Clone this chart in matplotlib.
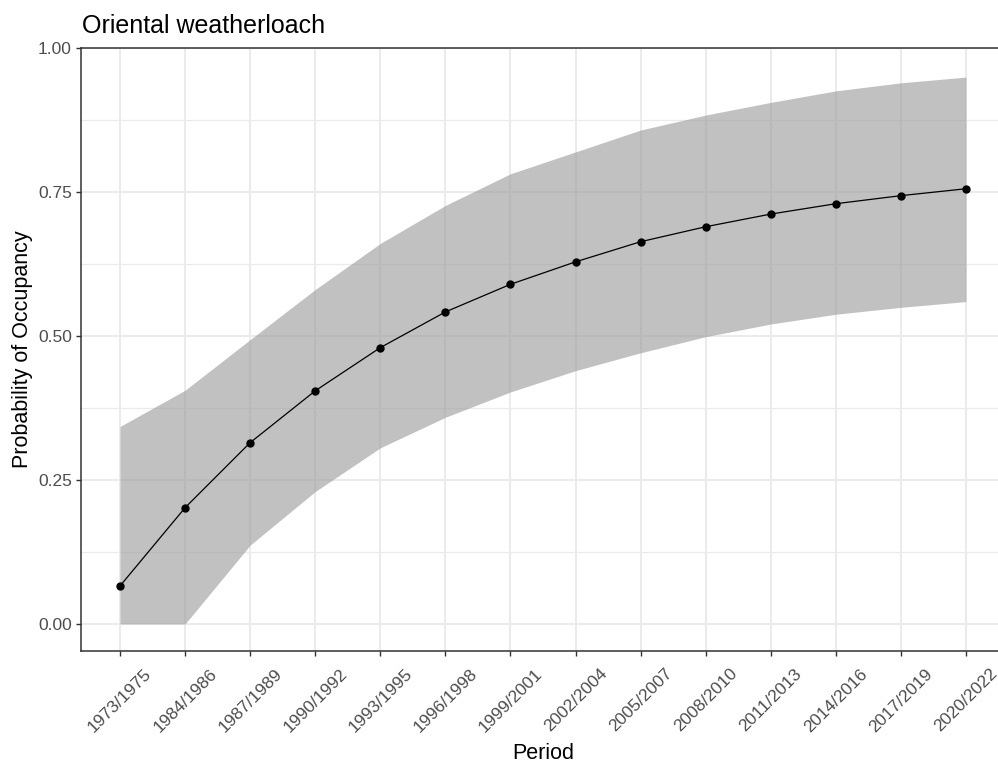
import numpy as np
import matplotlib
matplotlib.use("Agg")
import matplotlib.pyplot as plt

# periods (x categories)
periods = ["1973/1975", "1984/1986", "1987/1989", "1990/1992", "1993/1995",
           "1996/1998", "1999/2001", "2002/2004", "2005/2007", "2008/2010",
           "2011/2013", "2014/2016", "2017/2019", "2020/2022"]

# estimated occupancy and confidence band
occupancy = [0.066, 0.202, 0.315, 0.405, 0.480, 0.542, 0.590,
             0.629, 0.664, 0.690, 0.712, 0.730, 0.744, 0.756]
upper = [0.343, 0.406, 0.494, 0.581, 0.661, 0.727, 0.782,
         0.820, 0.858, 0.884, 0.906, 0.926, 0.940, 0.950]
lower = [0.0, 0.0, 0.137, 0.230, 0.306, 0.359, 0.403,
         0.440, 0.471, 0.499, 0.521, 0.538, 0.550, 0.560]

plt.rcParams['font.family'] = ['Liberation Sans', 'DejaVu Sans']

fig = plt.figure(figsize=(9.98, 7.67), dpi=100)
ax = fig.add_axes([81 / 998, 1 - 651 / 767, (1005 - 81) / 998, (651 - 48) / 767])

x = np.arange(len(periods))

# grid (theme_bw style)
ax.set_axisbelow(True)
ax.set_yticks([0.0, 0.25, 0.5, 0.75, 1.0])
ax.set_yticks([0.125, 0.375, 0.625, 0.875], minor=True)
ax.grid(True, which='major', color='#EBEBEB', linewidth=1.4)
ax.grid(True, which='minor', axis='y', color='#EBEBEB', linewidth=0.9)
ax.tick_params(axis='y', which='minor', length=0)

ax.fill_between(x, lower, upper, color='#999999', alpha=0.6, linewidth=0, zorder=2)
ax.plot(x, occupancy, color='black', linewidth=0.9, zorder=3)
ax.plot(x, occupancy, 'o', color='black', markersize=5, zorder=4)

ax.set_xlim(-0.6, 13.6)
ax.set_ylim(-0.047, 1.0005)
ax.set_xticks(x)
ax.set_xticklabels(periods, rotation=45, ha='center', va='center',
                   rotation_mode='anchor')
ax.set_yticklabels(["0.00", "0.25", "0.50", "0.75", "1.00"])

ax.tick_params(axis='both', which='major', length=3.5, width=1.0, color='#333333',
               labelcolor='#4D4D4D', labelsize=12.5)
ax.tick_params(axis='x', pad=32)
ax.tick_params(axis='y', pad=3)

for s in ax.spines.values():
    s.set_color('#333333')
    s.set_linewidth(1.1)

ax.set_xlabel("Period", fontsize=15.5, color='black')
ax.xaxis.set_label_coords(0.5, -0.152)
ax.set_ylabel("Probability of Occupancy", fontsize=15.5, color='black')
ax.yaxis.set_label_coords(-0.052, 0.5)

fig.text(82 / 998, 1 - 33 / 767, "Oriental weatherloach", fontsize=18,
         color='black', ha='left', va='baseline')

fig.savefig("out.png", dpi=100)
